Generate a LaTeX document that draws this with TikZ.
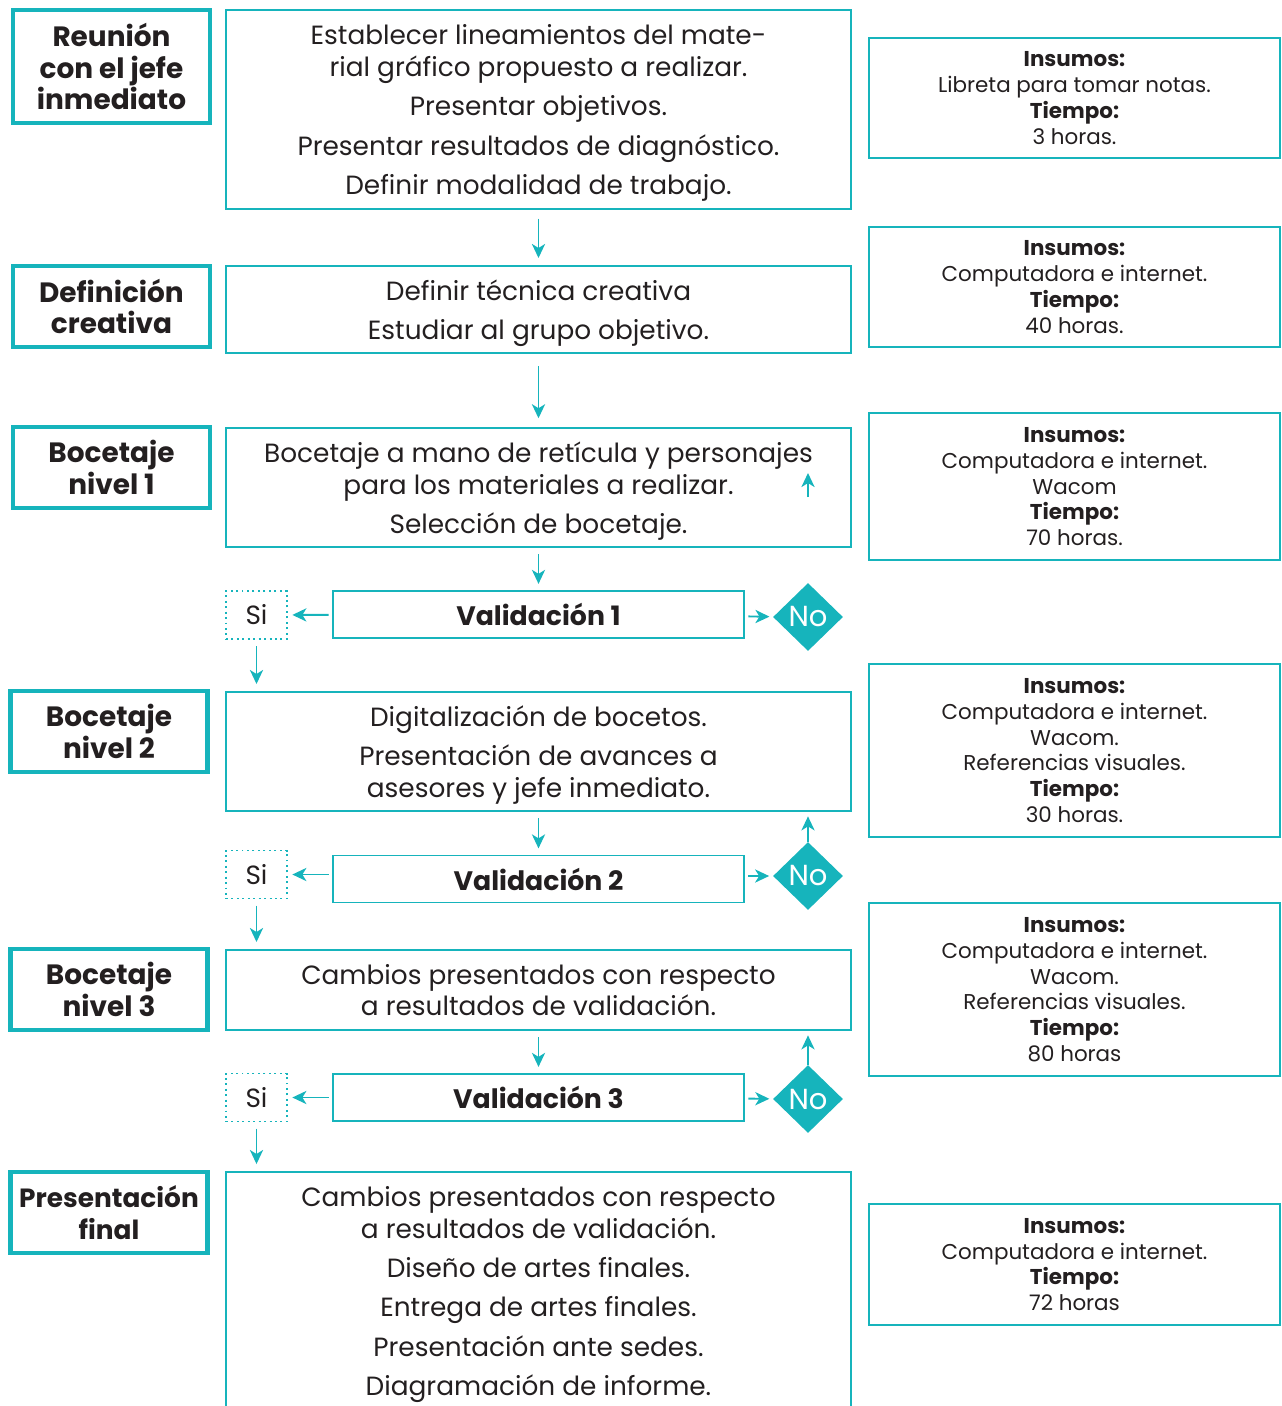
\documentclass[tikz,border=0pt]{standalone}
\usepackage{fontspec}
\setmainfont{Poppins}
\usetikzlibrary{arrows.meta}
\usetikzlibrary{shapes.geometric}
\definecolor{turq}{RGB}{22,180,188}
\definecolor{ink}{RGB}{35,31,32}

\tikzset{
  lbl/.style={draw=turq, line width=2.3pt, minimum width=3.94cm, minimum height=1.62cm, align=center, text=ink, font=\fontsize{15.9}{18.1}\selectfont\bfseries, inner sep=0pt},
  task/.style={draw=turq, line width=1.1pt, minimum width=12.5cm, align=center, text=ink, font=\fontsize{15}{18.1}\selectfont, inner sep=0pt, text depth=0pt},
  valbox/.style={draw=turq, line width=1.1pt, minimum width=8.22cm, minimum height=0.94cm, text=ink, font=\fontsize{15.2}{18.1}\selectfont\bfseries, inner sep=0pt},
  sibox/.style={draw=turq, line width=1.1pt, dotted, minimum width=1.22cm, minimum height=0.96cm, text=ink, font=\fontsize{15}{18.1}\selectfont, inner sep=0pt},
  nobox/.style={diamond, fill=turq, minimum width=1.4cm, minimum height=1.36cm, inner sep=0pt, text=white, font=\fontsize{16.5}{18.1}\selectfont},
  insbox/.style={draw=turq, line width=1.1pt, minimum width=8.22cm, align=center, text=ink, font=\fontsize{12.2}{14.7}\selectfont, inner sep=0pt, text depth=0pt},
  flow/.style={turq, line width=1.1pt, -{Stealth[length=8pt,width=7.5pt,inset=2.3pt]}}
}

\begin{document}
\begin{tikzpicture}[x=0.02cm,y=-0.02cm]
\useasboundingbox (0,0) rectangle (1281,1406);

% etapas
\node[lbl, minimum height=2.26cm] (l1) at (111.5,66.5) {Reunión\\con el jefe\\inmediato};
\node[lbl] (l2) at (111.5,306.5) {Definición\\creativa};
\node[lbl] (l3) at (111.5,467.5) {Bocetaje\\nivel 1};
\node[lbl] (l4) at (109,731.5) {Bocetaje\\nivel 2};
\node[lbl] (l5) at (109,989.5) {Bocetaje\\nivel 3};
\node[lbl, font=\fontsize{15}{18.1}\selectfont\bfseries] (l6) at (109,1212.5) {Presentación\\final};

% actividades
\node[task, minimum height=3.98cm] (t1) at (538.5,109.5) {Establecer lineamientos del mate-\\rial gráfico propuesto a realizar.\\[4.3pt]Presentar objetivos.\\[4.3pt]Presentar resultados de diagnóstico.\\[4.3pt]Definir modalidad de trabajo.};
\node[task, minimum height=1.74cm] (t2) at (538.5,309.5) {Definir técnica creativa\\[4.3pt]Estudiar al grupo objetivo.};
\node[task, minimum height=2.38cm] (t3) at (538.5,487.5) {Bocetaje a mano de retícula y personajes\\para los materiales a realizar.\\[4.3pt]Selección de bocetaje.};
\node[task, minimum height=2.38cm] (t4) at (538.5,751.5) {Digitalización de bocetos.\\[4.3pt]Presentación de avances a\\asesores y jefe inmediato.};
\node[task, minimum height=1.6cm] (t5) at (538.5,990) {Cambios presentados con respecto\\a resultados de validación.};
\node[task, minimum height=4.76cm] (t6) at (538.5,1291) {Cambios presentados con respecto\\a resultados de validación.\\[4.3pt]Diseño de artes finales.\\[4.3pt]Entrega de artes finales.\\[4.3pt]Presentación ante sedes.\\[4.3pt]Diagramación de informe.};

% validaciones
\node[valbox] (v1) at (538.5,614.5) {Validación 1};
\node[valbox] (v2) at (538.5,879) {Validación 2};
\node[valbox] (v3) at (538.5,1097.5) {Validación 3};

\node[sibox] (s1) at (256.5,615) {Si};
\node[sibox] (s2) at (256.5,874.5) {Si};
\node[sibox] (s3) at (256.5,1097.5) {Si};

\node[nobox] (n1) at (808,617) {No};
\node[nobox] (n2) at (808,876) {No};
\node[nobox] (n3) at (808,1099) {No};

% insumos
\node[insbox, minimum height=2.4cm] (i1) at (1074.5,98) {\textbf{Insumos:}\\Libreta para tomar notas.\\\textbf{Tiempo:}\\3 horas.};
\node[insbox, minimum height=2.4cm] (i2) at (1074.5,287) {\textbf{Insumos:}\\Computadora e internet.\\\textbf{Tiempo:}\\40 horas.};
\node[insbox, minimum height=2.94cm] (i3) at (1074.5,486.5) {\textbf{Insumos:}\\Computadora e internet.\\Wacom\\\textbf{Tiempo:}\\70 horas.};
\node[insbox, minimum height=3.46cm] (i4) at (1074.5,750.5) {\textbf{Insumos:}\\Computadora e internet.\\Wacom.\\Referencias visuales.\\\textbf{Tiempo:}\\30 horas.};
\node[insbox, minimum height=3.46cm] (i5) at (1074.5,989.5) {\textbf{Insumos:}\\Computadora e internet.\\Wacom.\\Referencias visuales.\\\textbf{Tiempo:}\\80 horas};
\node[insbox, minimum height=2.42cm] (i6) at (1074.5,1264.5) {\textbf{Insumos:}\\Computadora e internet.\\\textbf{Tiempo:}\\72 horas};

% flechas
\coordinate (r1a) at (808,497);
\coordinate (r1b) at (808,473);

\draw[flow, shorten <=5pt, shorten >=4pt] (t1) -- (t2);
\draw[flow, shorten <=7pt, shorten >=5pt] (t2) -- (t3);
\draw[flow, shorten <=3.5pt, shorten >=3.5pt] (t3) -- (v1);
\draw[flow, shorten <=2pt, shorten >=2.5pt] (v1) -- (s1);
\draw[flow, shorten <=2pt, shorten >=2pt] (v1) -- (n1);
\draw[flow, shorten <=3.5pt, shorten >=4pt] (s1) -- (s1 |- t4.north);
\draw[flow] (r1a) -- (r1b);

\draw[flow, shorten <=3.5pt, shorten >=3.5pt] (t4) -- (v2);
\draw[flow, shorten <=2pt, shorten >=2.5pt] (v2.west |- s2) -- (s2);
\draw[flow, shorten <=2pt, shorten >=2pt] (v2.east |- n2) -- (n2);
\draw[flow, shorten <=3.5pt, shorten >=4pt] (s2) -- (s2 |- t5.north);
\draw[flow, shorten >=2.5pt] (n2) -- (n2 |- t4.south);

\draw[flow, shorten <=3.5pt, shorten >=3.5pt] (t5) -- (v3);
\draw[flow, shorten <=2pt, shorten >=2.5pt] (v3) -- (s3);
\draw[flow, shorten <=2pt, shorten >=2pt] (v3) -- (n3);
\draw[flow, shorten <=3.5pt, shorten >=4pt] (s3) -- (s3 |- t6.north);
\draw[flow, shorten >=2.5pt] (n3) -- (n3 |- t5.south);
\end{tikzpicture}
\end{document}
